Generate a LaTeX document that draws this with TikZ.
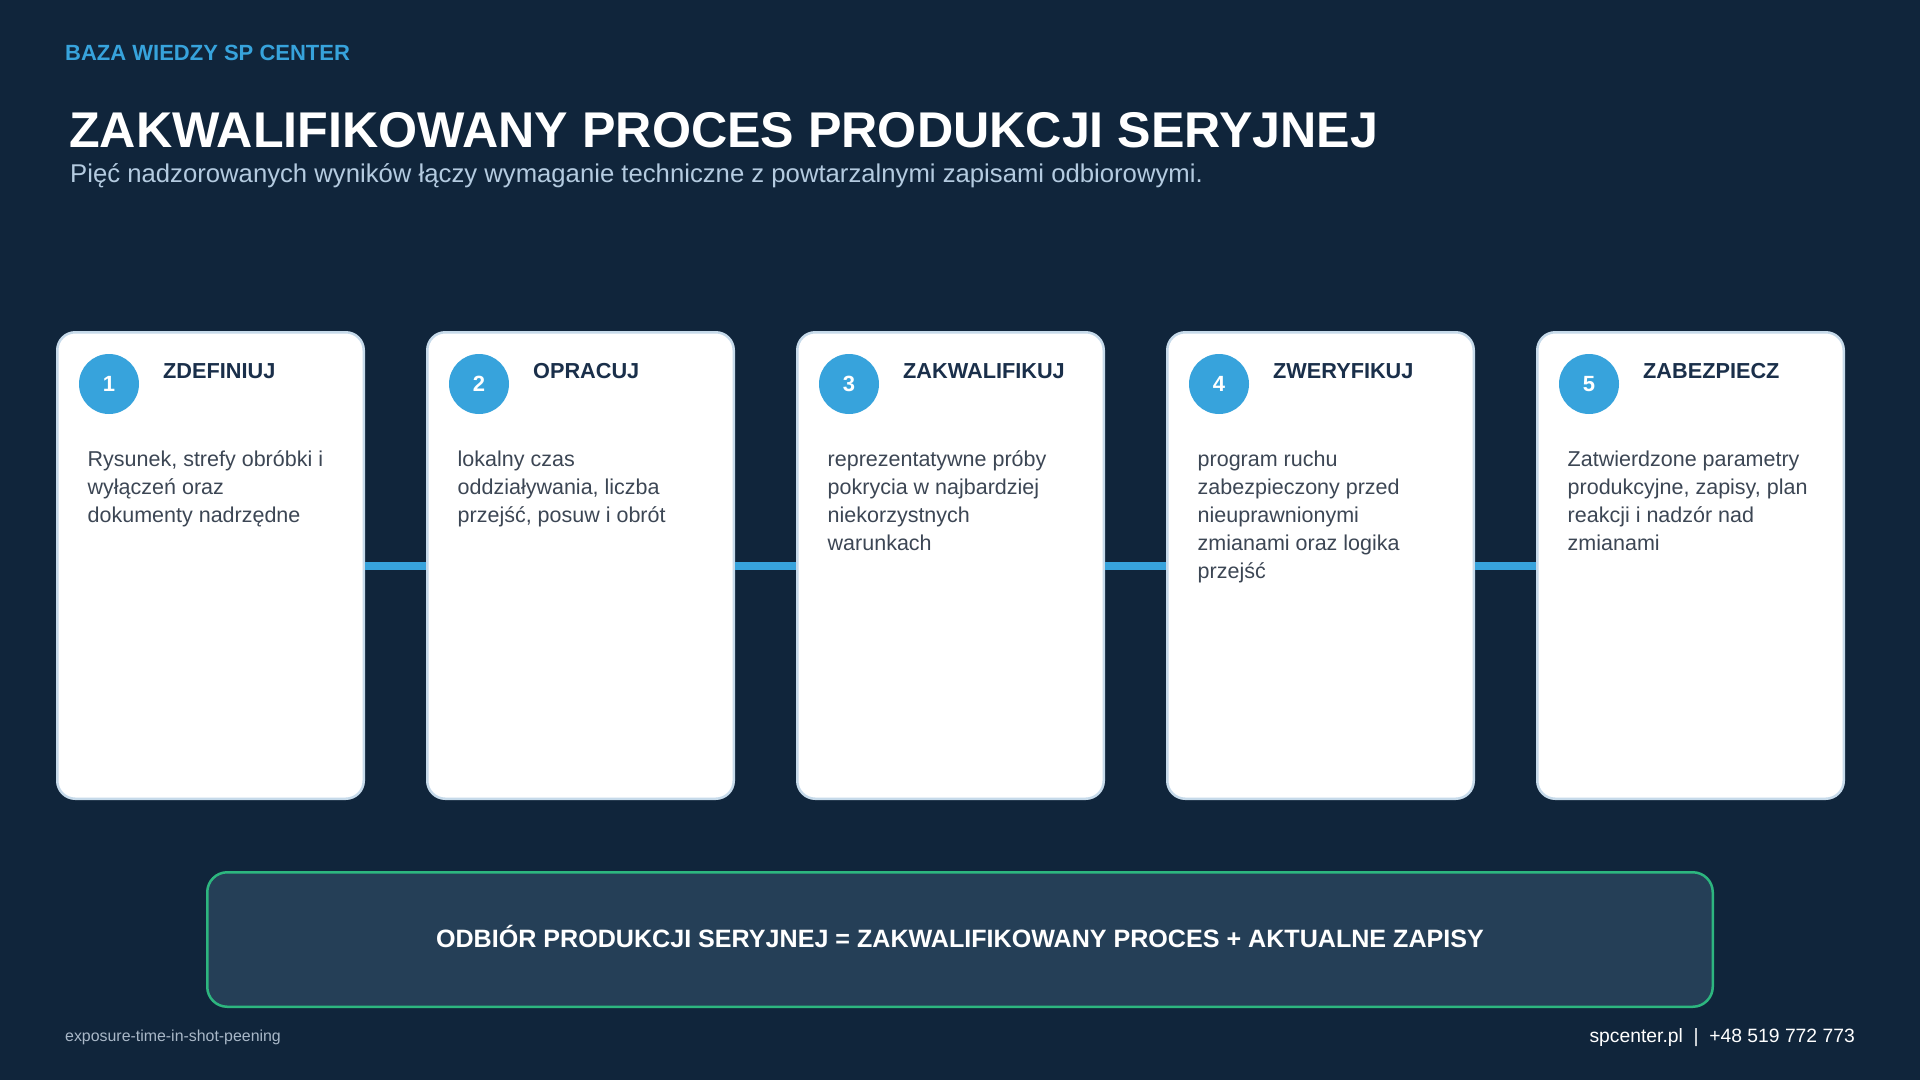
\documentclass[tikz,border=0pt]{standalone}
\usepackage{fontspec}
\setmainfont{Liberation Sans}
\definecolor{bg}{HTML}{10253B}
\definecolor{accent}{HTML}{37A3DC}
\definecolor{cardborder}{HTML}{C6DAEA}
\definecolor{navy}{HTML}{1A2F4A}
\definecolor{bodygrey}{HTML}{3C4654}
\definecolor{subt}{HTML}{B4CBE0}
\definecolor{boxfill}{HTML}{253F57}
\definecolor{boxgreen}{HTML}{2DB67F}
\definecolor{foot}{HTML}{A9B8C8}
\tikzset{
  card/.style={draw=cardborder, line width=2.5pt, fill=white, rounded corners=18pt, minimum width=306.5pt, minimum height=466.5pt, inner sep=0pt},
  badge/.style={circle, fill=accent, minimum size=60pt, inner sep=0pt, text=white, font=\fontsize{22}{26}\selectfont\bfseries},
  cardtitle/.style={anchor=base west, inner sep=0pt, text=navy, font=\fontsize{21.7}{25}\selectfont\bfseries},
  cardbody/.style={anchor=north west, inner sep=0pt, align=left, text=bodygrey, font=\fontsize{21.5}{28}\selectfont},
  link/.style={draw=accent, line width=8pt},
}
\begin{document}
\begin{tikzpicture}[x=1pt,y=-1pt]
\fill[bg] (0,0) rectangle (1920,1080);
\useasboundingbox (0,0) rectangle (1920,1080);
\node[anchor=base west, inner sep=0pt, text=accent, font=\fontsize{22}{25}\selectfont\bfseries] (kb) at (65,60) {BAZA WIEDZY SP CENTER};
\node[anchor=base west, inner sep=0pt, text=white, font=\fontsize{50.2}{56}\selectfont\bfseries] (title) at (69,147) {ZAKWALIFIKOWANY PROCES PRODUKCJI SERYJNEJ};
\node[anchor=base west, inner sep=0pt, text=subt, font=\fontsize{25.7}{30}\selectfont] (sub) at (70,182) {Pięć nadzorowanych wyników łączy wymaganie techniczne z powtarzalnymi zapisami odbiorowymi.};
% cards
\foreach \i/\t/\b in {
 1/ZDEFINIUJ/{Rysunek, strefy obróbki i\\wyłączeń oraz\\dokumenty nadrzędne},
 2/OPRACUJ/{lokalny czas\\oddziaływania, liczba\\przejść, posuw i obrót},
 3/ZAKWALIFIKUJ/{reprezentatywne próby\\pokrycia w najbardziej\\niekorzystnych\\warunkach},
 4/ZWERYFIKUJ/{program ruchu\\zabezpieczony przed\\nieuprawnionymi\\zmianami oraz logika\\przejść},
 5/ZABEZPIECZ/{Zatwierdzone parametry\\produkcyjne, zapisy, plan\\reakcji i nadzór nad\\zmianami}}{
  \pgfmathsetmacro{\xo}{370*(\i-1)}
  \node[card] (c\i) at (210.5+\xo,565.5) {};
  \node[badge] (n\i) at (109+\xo,384) {\i};
  \node[cardtitle] (t\i) at (163+\xo,378) {\t};
  \node[cardbody] (b\i) at (87.5+\xo,446) {\rule{0pt}{20pt}\b};
}
\foreach \a/\b in {1/2,2/3,3/4,4/5}{
  \draw[link] (c\a.east) -- (c\b.west);
}
% bottom box
\node[draw=boxgreen, line width=2.5pt, fill=boxfill, rounded corners=20pt, minimum width=1505.5pt, minimum height=134.5pt, inner sep=0pt] (eq) at (960,939.5) {};
\node[text=white, font=\fontsize{25.1}{28}\selectfont\bfseries, inner sep=0pt, anchor=base] (eqt) at (960,947.5) {ODBIÓR PRODUKCJI SERYJNEJ = ZAKWALIFIKOWANY PROCES + AKTUALNE ZAPISY};
% footer
\node[anchor=base west, inner sep=0pt, text=foot, font=\fontsize{15.9}{18}\selectfont] (fl) at (65,1041) {exposure-time-in-shot-peening};
\node[anchor=base east, inner sep=0pt, text=white, font=\fontsize{19.3}{22}\selectfont] (fr) at (1855,1042) {spcenter.pl\ \ |\ \ +48 519 772 773};
\end{tikzpicture}
\end{document}
